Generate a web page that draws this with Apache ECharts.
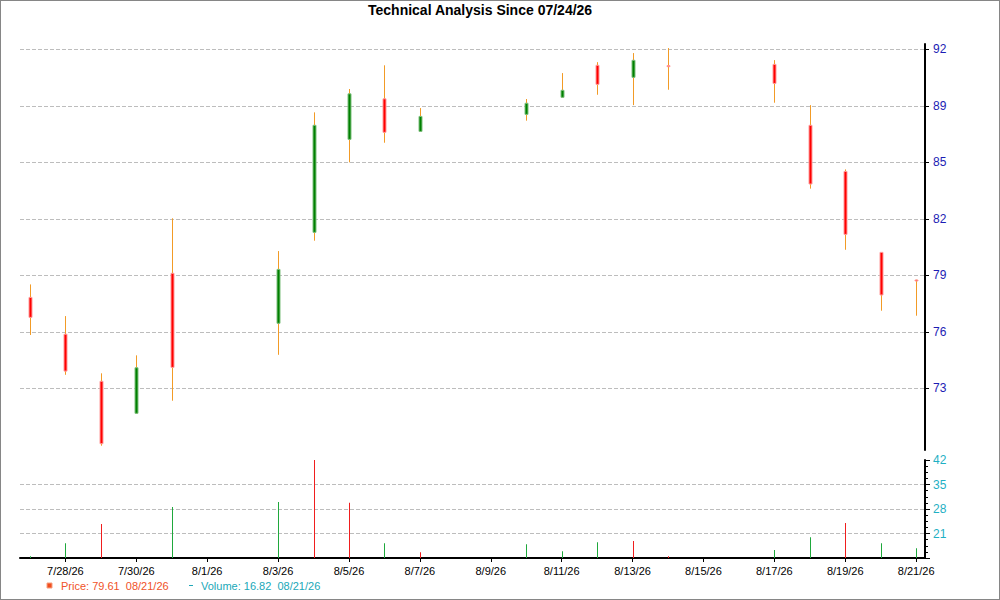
<!DOCTYPE html>
<html>
<head>
<meta charset="utf-8">
<title>Technical Analysis</title>
<script src="https://cdn.jsdelivr.net/npm/echarts@6/dist/echarts.min.js"></script>
<style>
  html, body { margin: 0; padding: 0; background: #fff; }
  #main { width: 1000px; height: 600px; }
</style>
</head>
<body>
<div id="main"></div>
<script>
// daily data
var dates = ['2026-07-27', '2026-07-28', '2026-07-29', '2026-07-30', '2026-07-31',
             '2026-08-03', '2026-08-04', '2026-08-05', '2026-08-06', '2026-08-07',
             '2026-08-10', '2026-08-11', '2026-08-12', '2026-08-13', '2026-08-14',
             '2026-08-17', '2026-08-18', '2026-08-19', '2026-08-20', '2026-08-21'];
var opens  = [78.69, 76.70, 74.16, 72.43, 79.99, 77.29, 82.20, 87.22, 89.41, 87.65,
              88.57, 89.49, 91.22, 90.57, 91.20, 91.27, 87.98, 85.49, 81.12, 79.63];
var closes = [77.61, 74.71, 70.79, 74.89, 74.91, 80.20, 87.98, 89.68, 87.60, 88.46,
              89.17, 89.87, 90.19, 91.49, 91.18, 90.24, 84.81, 82.09, 78.82, 79.61];
var lows   = [76.66, 74.51, 70.68, 72.40, 73.11, 75.59, 81.75, 85.98, 87.04, 87.63,
              88.23, 89.47, 89.63, 89.07, 89.90, 89.20, 84.56, 81.26, 77.97, 77.70];
var highs  = [79.39, 77.68, 74.59, 75.56, 82.96, 81.19, 88.68, 89.94, 91.22, 88.91,
              89.40, 90.80, 91.39, 91.88, 92.15, 91.50, 89.07, 85.60, 81.12, 79.65];
var volumes = [14.5, 18.23, 23.69, 14.0, 28.58, 30.01, 42.0, 29.81, 18.23, 15.64,
               17.94, 15.93, 18.52, 18.89, 14.5, 16.3, 19.95, 23.98, 18.23, 16.82];
var volumeUp = [1, 1, 0, 1, 1, 1, 0, 0, 1, 0, 1, 1, 1, 0, 0, 1, 1, 0, 1, 1];

// tick labels
var priceTicks = [73.78, 76.83, 79.88, 82.93, 85.98, 89.03, 92.08];
var dateTicks = ['2026-07-28', '2026-07-30', '2026-08-01', '2026-08-03', '2026-08-05',
                 '2026-08-07', '2026-08-09', '2026-08-11', '2026-08-13', '2026-08-15',
                 '2026-08-17', '2026-08-19', '2026-08-21'];
var titleText = 'Technical Analysis Since 07/24/26';

var DAY = 86400000;
var base = Date.UTC(2026, 6, 27);
function dayNum(s) {
  var p = s.split('-');
  return (Date.UTC(+p[0], +p[1] - 1, +p[2]) - base) / DAY;
}
function dayLabel(v) {
  var d = new Date(base + Math.round(v) * DAY);
  return (d.getUTCMonth() + 1) + '/' + d.getUTCDate() + '/' + String(d.getUTCFullYear()).slice(2);
}
function shortDate(s) {
  var p = s.split('-');
  return p[1] + '/' + p[2] + '/' + p[0].slice(2);
}

var candleData = dates.map(function (d, i) {
  return [dayNum(d), opens[i], closes[i], lows[i], highs[i]];
});
var volumeData = dates.map(function (d, i) {
  return [dayNum(d), volumes[i], volumeUp[i]];
});
var xTicks = dateTicks.map(dayNum);

var font = '"Liberation Sans", Arial, sans-serif';
var last = dates.length - 1;

var chart = echarts.init(document.getElementById('main'), null, { renderer: 'svg' });

chart.setOption({
  animation: false,
  backgroundColor: '#fff',
  textStyle: { fontFamily: font },
  title: {
    text: titleText,
    left: 363,
    top: -2,
    textStyle: { fontSize: 14, fontWeight: 'bold', color: '#000', fontFamily: font }
  },
  grid: [
    { left: 20, right: 75, top: 44, height: 406 },
    { left: 20, right: 75, top: 460, height: 98 }
  ],
  xAxis: [
    { type: 'value', gridIndex: 0, min: -0.28, max: 25.25, show: false },
    {
      type: 'value', gridIndex: 1, min: -0.28, max: 25.25,
      axisLine: { onZero: false, lineStyle: { color: '#000', width: 2 } },
      axisTick: { show: true, customValues: xTicks, length: 4, lineStyle: { color: '#000' } },
      axisLabel: { customValues: xTicks, formatter: dayLabel, fontSize: 11, color: '#000', margin: 7 },
      splitLine: { show: false }
    }
  ],
  yAxis: [
    {
      type: 'value', gridIndex: 0, position: 'right', min: 70.45, max: 92.37,
      axisLine: { show: true, onZero: false, lineStyle: { color: '#000', width: 2 } },
      axisTick: { show: true, customValues: priceTicks, length: 4, lineStyle: { color: '#000' } },
      axisLabel: {
        customValues: priceTicks, formatter: function (v) { return Math.floor(v); },
        color: '#1c1cb4', fontSize: 12, margin: 8
      },
      splitLine: { show: true, lineStyle: { color: '#bdbdbd', type: 'dashed' } }
    },
    {
      type: 'value', gridIndex: 1, position: 'right', min: 14, max: 42, interval: 7,
      axisLine: { show: true, onZero: false, lineStyle: { color: '#000', width: 2 } },
      axisTick: { show: true, length: 5, lineStyle: { color: '#000' } },
      minorTick: { show: true, splitNumber: 4, length: 3, lineStyle: { color: '#000' } },
      axisLabel: { showMinLabel: false, color: '#1fb0c4', fontSize: 12, margin: 8 },
      splitLine: { show: true, showMaxLine: false, lineStyle: { color: '#bdbdbd', type: 'dashed' } }
    }
  ],
  series: [
    {
      name: 'Price',
      type: 'custom',
      xAxisIndex: 0, yAxisIndex: 0,
      data: candleData,
      encode: { x: 0, y: [1, 2, 3, 4] },
      renderItem: function (params, api) {
        var x = api.value(0), o = api.value(1), c = api.value(2);
        var pH = api.coord([x, api.value(4)]);
        var pL = api.coord([x, api.value(3)]);
        var pO = api.coord([x, o]);
        var pC = api.coord([x, c]);
        var cx = Math.round(pH[0]) + 0.5;
        var up = c > o;
        var top = Math.min(pO[1], pC[1]);
        var h = Math.max(Math.abs(pO[1] - pC[1]), 1);
        return {
          type: 'group',
          children: [
            { type: 'line', shape: { x1: cx, y1: pH[1], x2: cx, y2: pL[1] },
              style: { stroke: '#f29b26', lineWidth: 1 } },
            { type: 'rect', shape: { x: cx - 1.5, y: top, width: 3, height: h },
              style: { fill: up ? '#008000' : '#ff0000', stroke: up ? '#7fc07f' : '#ff9c9c', lineWidth: 1 } }
          ]
        };
      }
    },
    {
      name: 'Volume',
      type: 'custom',
      xAxisIndex: 1, yAxisIndex: 1,
      data: volumeData,
      encode: { x: 0, y: 1 },
      renderItem: function (params, api) {
        var p = api.coord([api.value(0), api.value(1)]);
        var bottom = params.coordSys.y + params.coordSys.height;
        var cx = Math.round(p[0]) + 0.5;
        return {
          type: 'rect',
          shape: { x: cx - 0.5, y: p[1], width: 1, height: bottom - p[1] },
          style: { fill: api.value(2) ? '#1fa83c' : '#f01e1e' }
        };
      }
    }
  ],
  graphic: [
    { type: 'rect', shape: { x: 0, y: 0, width: 1000, height: 600 },
      style: { fill: 'none', stroke: '#868686', lineWidth: 2 }, silent: true },
    { type: 'rect', shape: { x: 47, y: 583, width: 5, height: 5 },
      style: { fill: '#f04e1e', stroke: '#f7a080', lineWidth: 1 } },
    { type: 'text', x: 61, y: 586,
      style: { text: 'Price: ' + closes[last].toFixed(2) + '  ' + shortDate(dates[last]),
               fill: '#f05228', font: '11px ' + font, verticalAlign: 'middle' } },
    { type: 'rect', shape: { x: 189, y: 585, width: 4, height: 1 },
      style: { fill: '#20a8b8' } },
    { type: 'text', x: 201, y: 586,
      style: { text: 'Volume: ' + volumes[last].toFixed(2) + '  ' + shortDate(dates[last]),
               fill: '#20a8b8', font: '11px ' + font, verticalAlign: 'middle' } }
  ]
});
</script>
</body>
</html>
